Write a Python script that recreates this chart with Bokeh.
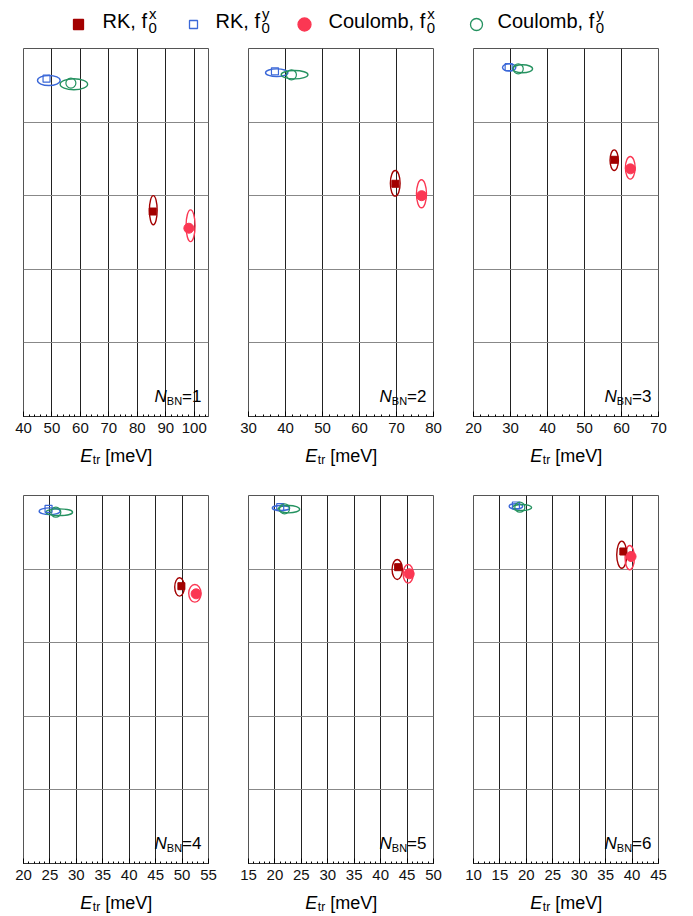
from bokeh.plotting import figure
from bokeh.layouts import column, row
from bokeh.models import FixedTicker, Label, Range1d
from bokeh.embed import file_html
from bokeh.resources import INLINE
from bokeh.core.properties import value
import numpy as np

FONT = "Liberation Sans"

# ---------------- data ----------------
n_bn = [1, 2, 3, 4, 5, 6]
x_lo = [40, 30, 20, 20, 15, 10]
x_hi = [105, 80, 70, 55, 50, 45]
x_step = [10, 10, 10, 5, 5, 5]

# marker positions: transition energy [meV], vertical position (arbitrary, 0..5)
rk_fx_E = [85.4, 69.7, 58.1, 49.87, 43.31, 38.35]
rk_fx_y = [2.785, 3.162, 3.488, 3.768, 4.026, 4.239]
rk_fy_E = [48.1, 37.15, 29.5, 24.74, 21.0, 18.02]
rk_fy_y = [4.59, 4.69, 4.746, 4.819, 4.841, 4.864]
co_fx_E = [98.1, 76.8, 62.4, 52.65, 45.4, 39.81]
co_fx_y = [2.558, 3.0, 3.365, 3.664, 3.936, 4.171]
co_fy_E = [56.65, 41.6, 32.1, 26.12, 21.82, 18.77]
co_fy_y = [4.53, 4.643, 4.724, 4.773, 4.819, 4.841]

# spread ellipses: centre E, centre y, width (meV), height
rk_fx_cx = [85.6, 69.66, 58.03, 49.52, 43.14, 38.05]
rk_fx_cy = [2.803, 3.168, 3.482, 3.757, 3.995, 4.196]
rk_fx_w = [2.71, 2.63, 2.25, 1.82, 1.95, 1.9]
rk_fx_h = [0.398, 0.349, 0.281, 0.25, 0.272, 0.367]

co_fx_cx = [98.7, 76.75, 62.37, 52.42, 45.21, 39.56]
co_fx_cy = [2.592, 3.026, 3.379, 3.671, 3.936, 4.155]
co_fx_w = [3.17, 2.71, 2.63, 2.33, 1.9, 1.76]
co_fx_h = [0.431, 0.380, 0.308, 0.24, 0.254, 0.33]

rk_fy_cx = [48.9, 37.63, 29.64, 24.95, 21.14, 18.02]
rk_fy_cy = [4.565, 4.671, 4.742, 4.787, 4.830, 4.853]
rk_fy_w = [7.96, 6.06, 3.6, 3.98, 3.28, 2.54]
rk_fy_h = [0.136, 0.105, 0.1, 0.091, 0.068, 0.068]

co_fy_cx = [57.7, 42.45, 33.26, 26.75, 22.62, 19.19]
co_fy_cy = [4.514, 4.644, 4.724, 4.773, 4.814, 4.837]
co_fy_w = [9.65, 7.23, 5.41, 5.06, 4.11, 3.6]
co_fy_h = [0.149, 0.113, 0.109, 0.091, 0.099, 0.082]

C_RK_X = "#a30000"
C_RK_Y = "#3b68d8"
C_CO_X = "#fb3753"
C_CO_Y = "#259260"

# Arial-like advance widths (em)
W = {"R": .722, "K": .667, ",": .278, " ": .278, "f": .278, "C": .722, "o": .556,
     "u": .556, "l": .222, "m": .833, "b": .556, "E": .667, "t": .278, "r": .333,
     "[": .278, "e": .556, "V": .667, "]": .278, "N": .722, "B": .667, "=": .584,
     "0": .556, "1": .556, "2": .556, "3": .556, "4": .556, "5": .556, "6": .556}


def tw(s, size):
    return sum(W.get(c, .556) for c in s) * size


def lab(p, x, y, text, dx, dy, size, align="left", style="normal"):
    p.add_layout(Label(x=x, y=y, x_offset=dx, y_offset=dy, text=text,
                       text_font=FONT, text_font_size=f"{size}px",
                       text_font_style=style, text_align=align,
                       text_baseline="alphabetic", text_color="black"))


def txt(p, x, y, text, size, style="normal", align="left"):
    p.text(x=[x], y=[y], text=[text], text_font=value(FONT),
           text_font_size=f"{size}px", text_font_style=style,
           text_baseline="alphabetic", text_align=align, text_color="black")


FRAME_H = 368
PW = 225          # panel figure width
BL, BR = 23, 17   # left / right borders -> frame width 185


def make_panel(i, top_b, bot_b):
    lo, hi, st = x_lo[i], x_hi[i], x_step[i]
    p = figure(width=PW, height=top_b + FRAME_H + bot_b,
               x_range=Range1d(lo, hi), y_range=Range1d(0, 5),
               output_backend="svg", toolbar_location=None,
               min_border_left=BL, min_border_right=BR,
               min_border_top=top_b, min_border_bottom=bot_b)
    p.background_fill_color = "white"
    p.border_fill_color = "white"
    p.outline_line_color = "#555555"
    p.outline_line_width = 1
    majors = list(range(lo, hi + 1, st))
    minors = list(np.arange(lo, hi + 1e-9, st / 5.0))
    p.xaxis.ticker = FixedTicker(ticks=majors, minor_ticks=minors)
    p.xgrid.ticker = FixedTicker(ticks=majors)
    p.ygrid.ticker = FixedTicker(ticks=[1, 2, 3, 4])
    p.xgrid.grid_line_color = "#222222"
    p.ygrid.grid_line_color = "#888888"
    p.xgrid.grid_line_width = 1
    p.ygrid.grid_line_width = 1
    p.yaxis.visible = False
    ax = p.xaxis[0]
    ax.axis_line_color = "#333333"
    ax.major_tick_in = 5
    ax.major_tick_out = 0
    ax.minor_tick_in = 2
    ax.minor_tick_out = 0
    ax.major_tick_line_color = "black"
    ax.minor_tick_line_color = "black"
    ax.major_label_text_font = FONT
    ax.major_label_text_font_size = "15px"
    ax.major_label_text_color = "#111111"
    ax.major_label_standoff = 6

    # ellipses
    p.ellipse(x=[rk_fy_cx[i]], y=[rk_fy_cy[i]], width=[rk_fy_w[i]], height=[rk_fy_h[i]],
              fill_color=None, line_color=C_RK_Y, line_width=1.4)
    p.ellipse(x=[co_fy_cx[i]], y=[co_fy_cy[i]], width=[co_fy_w[i]], height=[co_fy_h[i]],
              fill_color=None, line_color=C_CO_Y, line_width=1.4)
    p.ellipse(x=[rk_fx_cx[i]], y=[rk_fx_cy[i]], width=[rk_fx_w[i]], height=[rk_fx_h[i]],
              fill_color=None, line_color=C_RK_X, line_width=1.4)
    p.ellipse(x=[co_fx_cx[i]], y=[co_fx_cy[i]], width=[co_fx_w[i]], height=[co_fx_h[i]],
              fill_color=None, line_color=C_CO_X, line_width=1.4)
    # markers
    p.scatter(x=[rk_fy_E[i]], y=[rk_fy_y[i]], marker="square", size=7,
              fill_color=None, line_color=C_RK_Y, line_width=1.2)
    p.scatter(x=[co_fy_E[i]], y=[co_fy_y[i]], marker="circle", size=10,
              fill_color=None, line_color=C_CO_Y, line_width=1.2)
    p.scatter(x=[rk_fx_E[i]], y=[rk_fx_y[i]], marker="square", size=7,
              fill_color=C_RK_X, line_color=C_RK_X)
    p.scatter(x=[co_fx_E[i]], y=[co_fx_y[i]], marker="circle", size=10,
              fill_color=C_CO_X, line_color=C_CO_X)

    # N_BN label (bottom right, inside frame)
    s1 = f"={n_bn[i]}"
    w1 = tw(s1, 17)
    lab(p, hi, 0, s1, -7, 20, 17, align="right")
    lab(p, hi, 0, "BN", -7 - w1, 16, 11, align="right")
    lab(p, hi, 0, "N", -7 - w1 - tw("BN", 11), 20, 17, align="right", style="italic")
    return p


def make_strip(h, base_y):
    """A strip under a row of panels that carries the three x-axis titles."""
    s = figure(width=3 * PW, height=h, x_range=Range1d(0, 3 * PW), y_range=Range1d(0, h),
               output_backend="svg", toolbar_location=None,
               min_border=0, min_border_left=0, min_border_right=0,
               min_border_top=0, min_border_bottom=0)
    s.axis.visible = False
    s.grid.visible = False
    s.outline_line_color = None
    wE, wt, ws, wr = tw("E", 18), tw("tr", 12), tw(" ", 18), tw("[meV]", 18)
    for k in range(3):
        cx = k * PW + BL + (PW - BL - BR) / 2
        x0 = cx - (wE + wt + ws + wr) / 2
        txt(s, x0, base_y, "E", 18, style="italic")
        txt(s, x0 + wE + 0.5, base_y - 4, "tr", 12)
        txt(s, x0 + wE + wt + ws + 0.5, base_y, "[meV]", 18)
    return s


# ---------------- legend ----------------
LW, LH = 3 * PW, 40
leg = figure(width=LW, height=LH, x_range=Range1d(0, LW), y_range=Range1d(0, LH),
             output_backend="svg", toolbar_location=None,
             min_border=0, min_border_left=0, min_border_right=0,
             min_border_top=0, min_border_bottom=0)
leg.axis.visible = False
leg.grid.visible = False
leg.outline_line_color = None

leg_names = ["RK, f", "RK, f", "Coulomb, f", "Coulomb, f"]
leg_sup = ["x", "y", "x", "y"]
leg_mx = [78, 193, 304, 476]
leg_tx = [102, 215, 328, 497]
leg_marker = ["square", "square", "circle", "circle"]
leg_size = [10, 8, 13, 12]
leg_fill = [C_RK_X, None, C_CO_X, None]
leg_line = [C_RK_X, C_RK_Y, C_CO_X, C_CO_Y]

for k in range(4):
    leg.scatter(x=[leg_mx[k]], y=[LH - 24], marker=leg_marker[k], size=leg_size[k],
                fill_color=leg_fill[k], line_color=leg_line[k], line_width=1.3)
    txt(leg, leg_tx[k], LH - 20.5, leg_names[k], 20)
    xs = leg_tx[k] + tw(leg_names[k], 20) + 1.5
    txt(leg, xs, LH - 27, "0", 15)
    txt(leg, xs + 0.5, LH - 12.5, leg_sup[k], 15)

top = [make_panel(i, 8, 30) for i in range(3)]
strip_top = make_strip(34, 25)
bot = [make_panel(i, 15, 28) for i in range(3, 6)]
strip_bot = make_strip(24, 13)

layout = column(leg, row(*top), strip_top, row(*bot), strip_bot)
open("out.html", "w").write(file_html(layout, INLINE))
